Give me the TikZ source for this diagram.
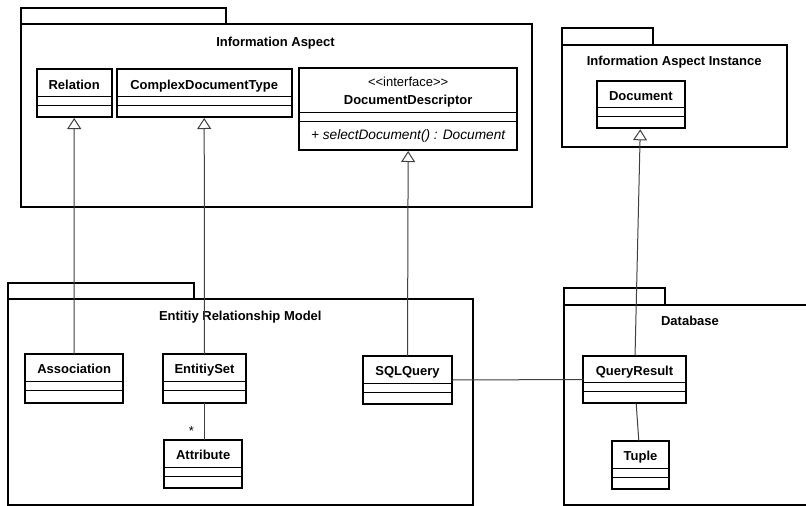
\documentclass[tikz,border=0pt]{standalone}
\usepackage{fontspec}
\setmainfont{Liberation Sans}
\usetikzlibrary{arrows.meta,calc}
\tikzset{
  clsbox/.style={draw, line width=2pt, inner sep=0pt, outer sep=0pt, rectangle, fill=white},
  complin/.style={line width=1pt},
  lbl/.style={inner sep=0pt, outer sep=0pt, anchor=base, font=\fontsize{13}{15}\selectfont},
  clsname/.style={lbl, font=\bfseries\fontsize{13}{15}\selectfont},
  mthd/.style={lbl, font=\itshape\fontsize{13.7}{15}\selectfont},
  pkgbox/.style={draw, line width=2pt},
  conn/.style={line width=1pt, draw=black!75},
  gen/.style={conn, -{Triangle[open, length=11pt, width=14pt]}, shorten >=1pt},
}
\newcommand{\umlcls}[8]{%
  \node[clsbox, minimum width={(#4-#2)*1pt}, minimum height={(#5-#3)*1pt}] (#1) at ({(#2+#4)/2},{(#3+#5)/2}) {};
  \draw[complin] ($(#1.north west)+(0,#6)$) -- ($(#1.north east)+(0,#6)$);
  \draw[complin] ($(#1.north west)+(0,#6+9)$) -- ($(#1.north east)+(0,#6+9)$);
  \node[clsname] (#1-t) at ($(#1.north)+(0,#7)$) {#8};
}
\begin{document}
\begin{tikzpicture}[x=1pt, y=-1pt]
\useasboundingbox (0,0) rectangle (806,506);
\clip (0,0) rectangle (806,506);
\fill[white] (0,0) rectangle (806,506);
% packages
\draw[pkgbox] (20.7,8.3) rectangle (225.7,24.3);
\draw[pkgbox] (20.7,24.3) rectangle (532,207);
\node[clsname] (ia-title) at (275.5,46) {Information Aspect};

\draw[pkgbox] (562.3,28.3) rectangle (652.7,45);
\draw[pkgbox] (562.3,45) rectangle (787.3,146.7);
\node[clsname] (iai-title) at (674.2,65.3) {Information Aspect Instance};

\draw[pkgbox] (8.3,282.7) rectangle (194.3,299.3);
\draw[pkgbox] (8.3,299.3) rectangle (473.3,505);
\node[clsname] (erm-title) at (240.3,320) {Entitiy Relationship Model};

\draw[pkgbox] (564.3,288.3) rectangle (665.3,305);
\draw[pkgbox] (564.3,305) rectangle (812,505);
\node[clsname] (db-title) at (690,325.3) {Database};

% classes
\umlcls{rel}{36.7}{69}{111.7}{117}{27.7}{20.3}{Relation}
\umlcls{cdt}{116.7}{69}{291.7}{117}{27.7}{20.3}{ComplexDocumentType}
\umlcls{dd}{299}{68.3}{517.3}{150}{44}{36}{DocumentDescriptor}
\node[lbl] (dd-st) at ($(dd.north)+(0,17.7)$) {<\kern0pt<interface>\kern0pt>};
\node[mthd] (dd-m) at ($(dd.north)+(0,71)$) {+ selectDocument() : Document};
\umlcls{doc}{596.7}{81}{685}{128.3}{26.7}{19}{Document}

\umlcls{assoc}{25}{354.3}{123.3}{402.7}{27.4}{19.5}{Association}
\umlcls{es}{163.3}{354.3}{245.7}{402.7}{27.4}{19.5}{EntitiySet}
\umlcls{sql}{363}{356}{452}{404}{27.4}{19.5}{SQLQuery}
\umlcls{attr}{164}{440}{242.3}{488}{27.4}{19.5}{Attribute}
\umlcls{qr}{583.3}{355.7}{685.7}{403.3}{27}{19.5}{QueryResult}
\umlcls{tup}{611.7}{441}{669.3}{489}{27}{19.5}{Tuple}

% connectors
\draw[gen] (assoc.north) -- (rel.south);
\draw[gen] (es.north) -- (cdt.south);
\draw[gen] (sql.north) -- (dd.south);
\draw[gen] (qr) -- (doc);
\draw[conn] (sql.east) -- (qr.west);
\draw[conn] (qr) -- (tup);
\draw[conn] (es.south) -- (attr.north -| es.south);
\node[lbl] (star) at ($(attr.north west)+(27.5,-5)$) {*};
\end{tikzpicture}
\end{document}
